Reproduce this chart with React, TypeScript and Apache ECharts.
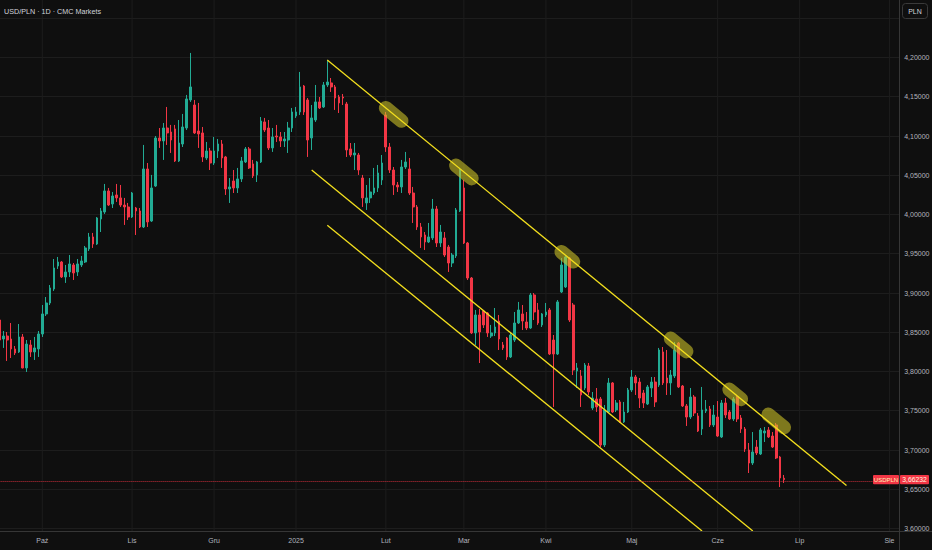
import React, { useEffect, useRef } from 'react';
import * as echarts from 'echarts';

// ---------- texts ----------
const SYMBOL_TITLE = 'USD/PLN · 1D · CMC Markets';
const CURRENCY = 'PLN';
const SYMBOL = 'USDPLN';
const LAST_PRICE = 3.66232;

// ---------- time axis (daily forex bars, weekdays) ----------
const FIRST_DATE = '2024-09-16';
const CATEGORY_COUNT = 231;
const HOLIDAYS = ['2024-12-25'];
const MONTH_NAMES = ['Sty', 'Lut', 'Mar', 'Kwi', 'Maj', 'Cze', 'Lip', 'Sie', 'Wrz', 'Paź', 'Lis', 'Gru'];

// ---------- price axis ----------
const Y_MIN = 3.55;
const Y_MAX = 4.3;
const Y_STEP = 0.05;
const Y_LABEL_LOW = 3.6;
const Y_LABEL_HIGH = 4.2;
const AXIS_BOTTOM_PRICE = 3.59682;

// ---------- candles: [open, close, low, high] ----------
const CANDLES: number[][] = [
  [3.8656, 3.8401, 3.8363, 3.8694], [3.8414, 3.8452, 3.83, 3.8516], [3.8452, 3.8401, 3.8134, 3.8503],
  [3.8414, 3.8287, 3.8172, 3.8618], [3.8287, 3.8236, 3.821, 3.8325], [3.8249, 3.844, 3.8236, 3.8605],
  [3.844, 3.8045, 3.804, 3.8478], [3.8045, 3.835, 3.7994, 3.8401], [3.8338, 3.8249, 3.8185, 3.8401],
  [3.8249, 3.83, 3.8147, 3.844], [3.8287, 3.8478, 3.8185, 3.8516], [3.8478, 3.8733, 3.844, 3.8847],
  [3.8733, 3.8873, 3.8707, 3.8949], [3.8873, 3.9064, 3.8847, 3.9102], [3.9051, 3.9319, 3.9026, 3.9433],
  [3.9344, 3.9395, 3.9306, 3.9459], [3.9395, 3.9204, 3.9191, 3.9408], [3.9204, 3.9268, 3.9128, 3.9357],
  [3.9268, 3.937, 3.9204, 3.9484], [3.9357, 3.9255, 3.9166, 3.9382], [3.9268, 3.937, 3.9217, 3.9433],
  [3.9357, 3.9408, 3.9331, 3.9472], [3.9395, 3.9574, 3.9382, 3.9599], [3.9561, 3.9714, 3.9535, 3.9765],
  [3.9714, 3.9624, 3.9574, 3.9765], [3.9624, 3.9956, 3.9612, 3.9968], [3.9943, 4.0045, 3.9777, 4.0083],
  [4.0032, 4.03, 4.0007, 4.0389], [4.03, 4.0121, 4.0109, 4.0338], [4.0134, 4.0236, 4.0083, 4.0287],
  [4.0249, 4.0211, 4.016, 4.0389], [4.0211, 4.0121, 4.0096, 4.0376], [4.0121, 4.0096, 3.9867, 4.0211],
  [4.0096, 3.9968, 3.993, 4.0147], [3.9968, 4.0274, 3.9956, 4.0287], [4.0083, 4.0045, 3.9739, 4.0096],
  [4.0045, 3.9841, 3.9828, 4.0083], [3.9841, 4.058, 3.9828, 4.0886], [4.058, 3.9905, 3.9841, 4.0656],
  [3.9917, 4.0338, 3.9905, 4.0504], [4.0363, 4.0975, 4.0351, 4.1], [4.0975, 4.0937, 4.0848, 4.1102],
  [4.0937, 4.1102, 4.0695, 4.1166], [4.1102, 4.1039, 4.0886, 4.137], [4.1051, 4.0949, 4.0784, 4.1141],
  [4.109, 4.0682, 4.0669, 4.1141], [4.0682, 4.0911, 4.0669, 4.1204], [4.0898, 4.1115, 4.086, 4.1281],
  [4.1102, 4.1472, 4.1077, 4.1523], [4.1459, 4.1625, 4.1434, 4.2058], [4.1395, 4.1039, 4.1026, 4.1459],
  [4.1064, 4.1026, 4.0848, 4.1421], [4.1039, 4.0733, 4.0669, 4.1115], [4.072, 4.0809, 4.0695, 4.0924],
  [4.0809, 4.0656, 4.0567, 4.0848], [4.0656, 4.0809, 4.0631, 4.0988], [4.0809, 4.0898, 4.072, 4.0962],
  [4.0898, 4.072, 4.0593, 4.0949], [4.0733, 4.0325, 4.0249, 4.0746], [4.0325, 4.0351, 4.0147, 4.0465],
  [4.0427, 4.0338, 4.0274, 4.0567], [4.0338, 4.0453, 4.0274, 4.0593], [4.0453, 4.0682, 4.0414, 4.0733],
  [4.0669, 4.0835, 4.0656, 4.086], [4.0835, 4.0593, 4.058, 4.086], [4.0644, 4.0491, 4.0465, 4.0695],
  [4.0504, 4.0669, 4.0414, 4.0682], [4.0669, 4.1191, 4.0656, 4.1242], [4.1179, 4.1077, 4.1051, 4.123],
  [4.1102, 4.0848, 4.0822, 4.1204], [4.0848, 4.0988, 4.0797, 4.1102], [4.1, 4.0988, 4.0924, 4.1141],
  [4.0988, 4.0937, 4.086, 4.1051], [4.0937, 4.0962, 4.086, 4.1051], [4.0949, 4.1102, 4.0784, 4.1179],
  [4.1102, 4.1306, 4.1051, 4.1357], [4.1255, 4.1306, 4.123, 4.137], [4.1306, 4.1625, 4.1268, 4.1816],
  [4.1637, 4.1306, 4.1268, 4.165], [4.1459, 4.0949, 4.0733, 4.1484], [4.0975, 4.123, 4.0822, 4.1395],
  [4.1204, 4.1434, 4.1179, 4.165], [4.1434, 4.1357, 4.1344, 4.1497], [4.137, 4.165, 4.1357, 4.1688],
  [4.165, 4.1688, 4.1625, 4.1969], [4.1676, 4.1625, 4.1561, 4.1739], [4.1625, 4.1484, 4.1332, 4.165],
  [4.1497, 4.1421, 4.1293, 4.1523], [4.1497, 4.1484, 4.1395, 4.1535], [4.1408, 4.0822, 4.0733, 4.1434],
  [4.0835, 4.0758, 4.0733, 4.0911], [4.0758, 4.0784, 4.0567, 4.0911], [4.0758, 4.0567, 4.0504, 4.0784],
  [4.0465, 4.0211, 4.0096, 4.0504], [4.0147, 4.0211, 4.0058, 4.0376], [4.0211, 4.0287, 4.0147, 4.0465],
  [4.0274, 4.0338, 4.0249, 4.0593], [4.0338, 4.0529, 4.0287, 4.0631], [4.044, 4.0656, 4.0376, 4.0758],
  [4.1268, 4.086, 4.0797, 4.1306], [4.086, 4.0567, 4.0529, 4.0911], [4.0567, 4.0376, 4.0249, 4.0605],
  [4.0376, 4.0351, 4.0287, 4.0414], [4.0351, 4.0605, 4.0274, 4.0695], [4.0605, 4.0669, 4.058, 4.0797],
  [4.058, 4.0274, 4.0249, 4.072], [4.0274, 4.0096, 3.9892, 4.0351], [4.0096, 3.9841, 3.9803, 4.0121],
  [3.9841, 3.9714, 3.9574, 3.9892], [3.9739, 3.965, 3.9548, 3.9777], [3.965, 3.9714, 3.9637, 3.9892],
  [3.9701, 4.007, 3.9675, 4.0198], [4.007, 3.9637, 3.9586, 4.0109], [3.9637, 3.9777, 3.9586, 3.9867],
  [3.9701, 3.9484, 3.9459, 3.9777], [3.9586, 3.9382, 3.9268, 3.9612], [3.9382, 3.9484, 3.9331, 3.951],
  [3.9472, 4.0058, 3.9446, 4.0083], [4.0045, 4.0567, 4.0032, 4.0593], [4.0338, 3.9637, 3.9624, 4.044],
  [3.9637, 3.9191, 3.9166, 3.965], [3.9191, 3.8491, 3.8478, 3.9204], [3.8491, 3.872, 3.8338, 3.8784],
  [3.872, 3.8503, 3.8108, 3.8796], [3.8771, 3.8593, 3.8554, 3.8784], [3.8745, 3.8491, 3.844, 3.8758],
  [3.8452, 3.8491, 3.8427, 3.8593], [3.8491, 3.8567, 3.8452, 3.8809], [3.8643, 3.8414, 3.8274, 3.872],
  [3.8338, 3.83, 3.8274, 3.8376], [3.8427, 3.8185, 3.8147, 3.844], [3.8185, 3.8465, 3.8172, 3.8503],
  [3.8401, 3.8618, 3.8376, 3.8758], [3.8618, 3.8784, 3.8605, 3.8886], [3.8733, 3.8643, 3.8529, 3.8847],
  [3.8631, 3.8554, 3.8529, 3.8758], [3.8554, 3.8975, 3.8542, 3.9], [3.8975, 3.8758, 3.8656, 3.9],
  [3.8784, 3.8618, 3.8593, 3.8873], [3.8593, 3.8733, 3.8567, 3.8745], [3.872, 3.8758, 3.8694, 3.8873],
  [3.8784, 3.8223, 3.821, 3.8809], [3.8401, 3.8223, 3.7548, 3.8465], [3.8223, 3.8886, 3.821, 3.8911],
  [3.9013, 3.9357, 3.9, 3.9446], [3.9077, 3.9459, 3.9064, 3.9472], [3.9446, 3.8656, 3.8631, 3.9459],
  [3.8847, 3.8019, 3.7955, 3.8873], [3.8007, 3.8045, 3.779, 3.8108], [3.7943, 3.7701, 3.7548, 3.8019],
  [3.779, 3.8083, 3.7765, 3.8108], [3.807, 3.7739, 3.7701, 3.8108], [3.7535, 3.7662, 3.751, 3.7739],
  [3.765, 3.7548, 3.7484, 3.779], [3.765, 3.7064, 3.7038, 3.7675], [3.7064, 3.751, 3.7038, 3.7573],
  [3.7484, 3.7854, 3.7471, 3.7917], [3.7854, 3.7484, 3.7471, 3.7866], [3.751, 3.7599, 3.7484, 3.7637],
  [3.7612, 3.7357, 3.7344, 3.7637], [3.7357, 3.7484, 3.7344, 3.7612], [3.7484, 3.7765, 3.7471, 3.779],
  [3.7765, 3.793, 3.7739, 3.8019], [3.793, 3.7854, 3.7701, 3.7955], [3.7866, 3.7662, 3.7535, 3.7917],
  [3.7726, 3.7599, 3.7535, 3.7765], [3.7586, 3.7803, 3.7573, 3.7828], [3.779, 3.7866, 3.7675, 3.793],
  [3.7866, 3.7612, 3.7548, 3.793], [3.7828, 3.8274, 3.7803, 3.83], [3.8249, 3.7854, 3.7828, 3.8312],
  [3.7917, 3.7854, 3.7701, 3.8274], [3.7854, 3.7955, 3.7701, 3.8019], [3.7943, 3.8274, 3.7917, 3.8376],
  [3.8363, 3.7803, 3.779, 3.8376], [3.7815, 3.7561, 3.7548, 3.7828], [3.7561, 3.742, 3.7306, 3.7586],
  [3.742, 3.7675, 3.7395, 3.779], [3.7675, 3.7471, 3.7433, 3.7701], [3.7433, 3.7242, 3.7229, 3.7471],
  [3.7268, 3.751, 3.7191, 3.7803], [3.7497, 3.7522, 3.7471, 3.7637], [3.7522, 3.7319, 3.7293, 3.7561],
  [3.7319, 3.7446, 3.7293, 3.7573], [3.742, 3.7178, 3.7166, 3.7624], [3.7166, 3.7599, 3.7153, 3.7637],
  [3.7599, 3.7446, 3.7408, 3.7662], [3.7484, 3.7395, 3.7382, 3.751], [3.7395, 3.765, 3.737, 3.7675],
  [3.7675, 3.7395, 3.7357, 3.7701], [3.7408, 3.7268, 3.7217, 3.7446], [3.7268, 3.7013, 3.6975, 3.7293],
  [3.7, 3.6834, 3.6707, 3.7089], [3.6834, 3.6975, 3.6809, 3.7229], [3.7038, 3.6962, 3.6936, 3.7127],
  [3.6949, 3.7255, 3.6936, 3.728], [3.7217, 3.7242, 3.7102, 3.7293], [3.7255, 3.7166, 3.7153, 3.7293],
  [3.7178, 3.7038, 3.7026, 3.7229], [3.7319, 3.6898, 3.6885, 3.7344], [3.6911, 3.6643, 3.6528, 3.6924],
  [3.664, 3.66232, 3.658, 3.6682],
];

// ---------- drawings: [barIndex, price] pairs ----------
const CHANNEL_LINES: number[][][] = [
  [[84, 4.19682], [217, 3.6547]],
  [[80, 4.05669], [193, 3.59682]],
  [[84, 3.98625], [180, 3.59682]],
];
const TOUCH_MARKS: number[][][] = [
  [[99, 4.13563], [103, 4.11932]],
  [[117, 4.06231], [121, 4.046]],
  [[144, 3.95225], [147, 3.94003]],
  [[172, 3.84195], [176, 3.82564]],
  [[187, 3.77698], [190, 3.76474]],
  [[197, 3.74513], [201, 3.72884]],
];

// ---------- style ----------
const BG = '#0f0f0f';
const GRID_COLOR = '#1d1d1d';
const SEP_COLOR = '#363636';
const TEXT_COLOR = '#b2b5be';
const UP = '#22ab94';
const DOWN = '#f23645';
const CHANNEL_COLOR = '#f4e01e';
const FONT = "'Liberation Sans', Arial, sans-serif";

function buildDates(): string[] {
  const out: string[] = [];
  const [y, m, d] = FIRST_DATE.split('-').map(Number);
  let t = Date.UTC(y, m - 1, d);
  while (out.length < CATEGORY_COUNT) {
    const dt = new Date(t);
    const wd = dt.getUTCDay();
    const s = dt.toISOString().slice(0, 10);
    if (wd !== 0 && wd !== 6 && HOLIDAYS.indexOf(s) < 0) out.push(s);
    t += 86400000;
  }
  return out;
}

function fmtPrice(v: number): string {
  return v.toFixed(5).replace('.', ',');
}

export default function App() {
  const ref = useRef<HTMLDivElement>(null);

  useEffect(() => {
    document.body.style.margin = '0';
    document.body.style.background = BG;
    const el = ref.current as HTMLDivElement;
    const chart = echarts.init(el, undefined, { renderer: 'svg', width: 932, height: 550 });

    const dates = buildDates();
    const monthStarts: number[] = [];
    for (let i = 1; i < dates.length; i++) {
      if (dates[i].slice(0, 7) !== dates[i - 1].slice(0, 7)) monthStarts.push(i);
    }
    const monthSet = new Set(monthStarts);

    const channelStyle = { color: CHANNEL_COLOR, width: 1.3, type: 'solid', opacity: 1 };
    const touchStyle = { color: 'rgba(206,196,40,0.58)', width: 14, type: 'solid', cap: 'round', opacity: 1 };
    const priceStyle = { color: 'rgba(242,54,69,0.8)', width: 1, type: 'dotted', opacity: 1 };

    const option: any = {
      animation: false,
      backgroundColor: BG,
      grid: {
        left: -2.6,
        right: 32.8,
        top: -21,
        bottom: -17.75,
        containLabel: false,
        outerBoundsMode: 'none',
      },
      xAxis: {
        type: 'category',
        data: dates,
        boundaryGap: true,
        offset: -36.75,
        axisLine: { show: false },
        axisTick: { show: false },
        splitLine: { show: false },
        axisLabel: {
          interval: (index: number) => monthSet.has(index),
          formatter: (value: string) => {
            const mo = Number(value.slice(5, 7));
            return mo === 1 ? value.slice(0, 4) : MONTH_NAMES[mo - 1];
          },
          margin: 6,
          color: TEXT_COLOR,
          fontSize: 7,
          fontFamily: FONT,
        },
      },
      yAxis: {
        type: 'value',
        position: 'right',
        min: Y_MIN,
        max: Y_MAX,
        interval: Y_STEP,
        axisLine: { show: false },
        axisTick: { show: false },
        splitLine: { show: true, lineStyle: { color: GRID_COLOR, width: 1 } },
        axisLabel: {
          margin: 5,
          color: TEXT_COLOR,
          fontSize: 7,
          fontFamily: FONT,
          formatter: (v: number) =>
            v < Y_LABEL_LOW - 1e-6 || v > Y_LABEL_HIGH + 1e-6 ? '' : fmtPrice(v),
        },
      },
      series: [
        {
          type: 'custom',
          name: 'monthGrid',
          silent: true,
          z: 1,
          data: monthStarts.map((i) => [i]),
          renderItem: (params: any, api: any) => {
            const i = api.value(0);
            const p1 = api.coord([i, Y_MAX]);
            const p2 = api.coord([i, AXIS_BOTTOM_PRICE]);
            return {
              type: 'line',
              shape: { x1: p1[0], y1: p1[1], x2: p2[0], y2: p2[1] },
              style: { stroke: GRID_COLOR, lineWidth: 1 },
            };
          },
        },
        {
          type: 'candlestick',
          name: SYMBOL,
          data: CANDLES,
          z: 3,
          silent: true,
          barWidth: 2.2,
          itemStyle: {
            color: UP,
            color0: DOWN,
            borderColor: UP,
            borderColor0: DOWN,
            borderWidth: 1,
          },
          markLine: {
            silent: true,
            symbol: ['none', 'none'],
            label: { show: false },
            lineStyle: { type: 'solid' },
            animation: false,
            data: [
              ...TOUCH_MARKS.map((s) => [
                { coord: s[0], lineStyle: touchStyle },
                { coord: s[1], lineStyle: touchStyle },
              ]),
              ...CHANNEL_LINES.map((s) => [
                { coord: s[0], lineStyle: channelStyle },
                { coord: s[1], lineStyle: channelStyle },
              ]),
              { yAxis: LAST_PRICE, lineStyle: priceStyle },
            ],
          },
        },
      ],
    };

    chart.setOption(option);

    const py = chart.convertToPixel({ yAxisIndex: 0 }, LAST_PRICE) as unknown as number;
    chart.setOption({
      graphic: [
        {
          type: 'text',
          x: 4,
          y: 11,
          z: 100,
          style: { text: SYMBOL_TITLE, fill: '#d1d4dc', fontSize: 7.2, fontFamily: FONT, verticalAlign: 'middle', align: 'left' },
        },
        { type: 'line', z: 100, shape: { x1: 899.5, y1: 0, x2: 899.5, y2: 550 }, style: { stroke: SEP_COLOR, lineWidth: 1 } },
        { type: 'line', z: 100, shape: { x1: 0, y1: 531.5, x2: 932, y2: 531.5 }, style: { stroke: SEP_COLOR, lineWidth: 1 } },
        {
          type: 'rect',
          z: 100,
          shape: { x: 902.5, y: 3.5, width: 25, height: 15, r: 3 },
          style: { fill: BG, stroke: '#3a3a3a', lineWidth: 1 },
        },
        {
          type: 'text',
          z: 101,
          x: 915,
          y: 11,
          style: { text: CURRENCY, fill: '#d1d4dc', fontSize: 7, fontFamily: FONT, align: 'center', verticalAlign: 'middle' },
        },
        {
          type: 'rect',
          z: 100,
          shape: { x: 873, y: py - 4.7, width: 26, height: 9.4, r: 1 },
          style: { fill: DOWN },
        },
        {
          type: 'text',
          z: 101,
          x: 886,
          y: py,
          style: { text: SYMBOL, fill: '#fff3b8', fontSize: 6, fontFamily: FONT, align: 'center', verticalAlign: 'middle' },
        },
        {
          type: 'rect',
          z: 100,
          shape: { x: 900, y: py - 4.7, width: 29, height: 9.4, r: 1 },
          style: { fill: DOWN },
        },
        {
          type: 'text',
          z: 101,
          x: 914.5,
          y: py,
          style: { text: fmtPrice(LAST_PRICE), fill: '#fff8e0', fontSize: 6.8, fontFamily: FONT, align: 'center', verticalAlign: 'middle' },
        },
      ],
    });

    return () => {
      chart.dispose();
    };
  }, []);

  return (
    <div
      ref={ref}
      style={{ width: 932, height: 550, position: 'absolute', left: 0, top: 0, background: BG }}
    />
  );
}
